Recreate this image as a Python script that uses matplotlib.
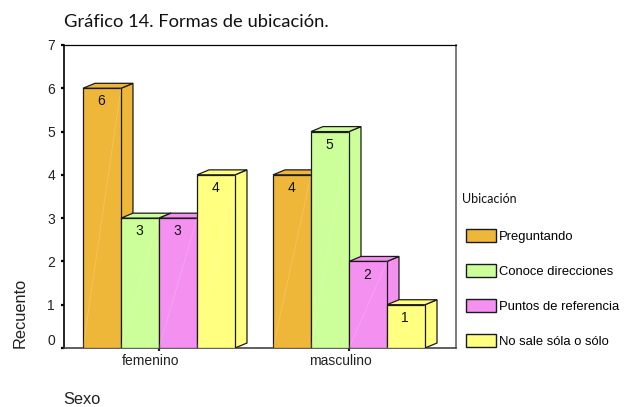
import matplotlib
matplotlib.use("Agg")
import matplotlib.pyplot as plt
from matplotlib.patches import Polygon, Rectangle
from matplotlib.transforms import ScaledTranslation

plt.rcParams["font.family"] = ["Liberation Sans"]

categories = ["femenino", "masculino"]
series_names = ["Preguntando", "Conoce direcciones", "Puntos de referencia", "No sale sóla o sólo"]
preguntando = [6, 4]
conoce = [3, 5]
puntos = [3, 2]
no_sale = [4, 1]
colors = ["#EFB739", "#CCFF99", "#F490F0", "#FFFF80"]

W, H = 626, 407
HAND = "Lato"
fig = plt.figure(figsize=(W / 100, H / 100), dpi=100, facecolor="white")
L, R, T, B = 64, 456, 45, 348
ax = fig.add_axes([L / W, 1 - B / H, (R - L) / W, (B - T) / H])
ax.set_xlim(0.5, 2.563)
ax.set_ylim(0, 7)
ax.set_xticks([1, 2], categories)
ax.set_yticks(range(8))
ax.tick_params(axis="y", length=2.5, width=1.6, labelsize=10, pad=4, color="black", labelcolor="#222222")
ax.tick_params(axis="x", length=2.5, width=1.6, pad=1.5, color="#222222", labelsize=10, labelcolor="#222222")
ax.get_yticklabels()[0].set_verticalalignment("bottom")
shift = ScaledTranslation(-8.5 / 100, 0, fig.dpi_scale_trans)
for lab in ax.get_xticklabels():
    lab.set_transform(lab.get_transform() + shift)
ax.spines["left"].set(color="black", linewidth=1.2)
ax.spines["top"].set(color="black", linewidth=0.9)
ax.spines["right"].set(color="#666666", linewidth=1.2)
ax.spines["bottom"].set(color="#444444", linewidth=1.2)

bw, dx, dy = 0.2, 0.063, 0.115
table = [preguntando, conoce, puntos, no_sale]
for c, center in enumerate([1, 2]):
    for s, vals in enumerate(table):
        v = vals[c]
        x0 = center + (s - 2) * bw
        x1 = x0 + bw
        col = colors[s]
        kw = dict(facecolor=col, edgecolor="#1a1a1a", linewidth=0.9, zorder=3 + s * 0.1 + c)
        ax.add_patch(Polygon([(x1, 0), (x1 + dx, dy), (x1 + dx, v + dy), (x1, v)], closed=True, **kw))
        ax.add_patch(Polygon([(x0, v), (x0 + dx, v + dy), (x1 + dx, v + dy), (x1, v)], closed=True, **kw))
        ax.add_patch(Rectangle((x0, 0), bw, v, **kw))
        ax.plot([x0, x1], [0, v], color="white", alpha=0.22, lw=0.5, zorder=kw["zorder"] + 0.01)
        ax.annotate(str(v), (x0 + bw / 2, v), xytext=(-0.7, -9.5), textcoords="offset points",
                    ha="center", va="center", fontsize=10, color="#111111",
                    zorder=kw["zorder"] + 0.02)

handles = [Rectangle((0, 0), 1, 1, facecolor=c, edgecolor="#1a1a1a", linewidth=1.0) for c in colors]
fig.legend(handles, series_names, loc="upper left", bbox_to_anchor=(462 / W, 1 - 225 / H),
           frameon=False, prop={"size": 9.4}, handlelength=2.3, handleheight=1.15,
           labelspacing=1.62, handletextpad=0.22, borderpad=0.3, borderaxespad=0)

fig.text(64 / W, 1 - 22 / H, "Gráfico 14. Formas de ubicación.", fontsize=13.2, family=HAND, va="center", color="#111111")
fig.text(462 / W, 1 - 199 / H, "Ubicación", fontsize=9, family=HAND, va="center", color="#111111")
fig.text(20 / W, 1 - 348 / H, "Recuento", fontsize=11.8, rotation=90, ha="center", va="bottom", color="#222222")
fig.text(63 / W, 1 - 399 / H, "Sexo", fontsize=11.8, va="center", color="#222222")
fig.savefig("out.png", dpi=100)
